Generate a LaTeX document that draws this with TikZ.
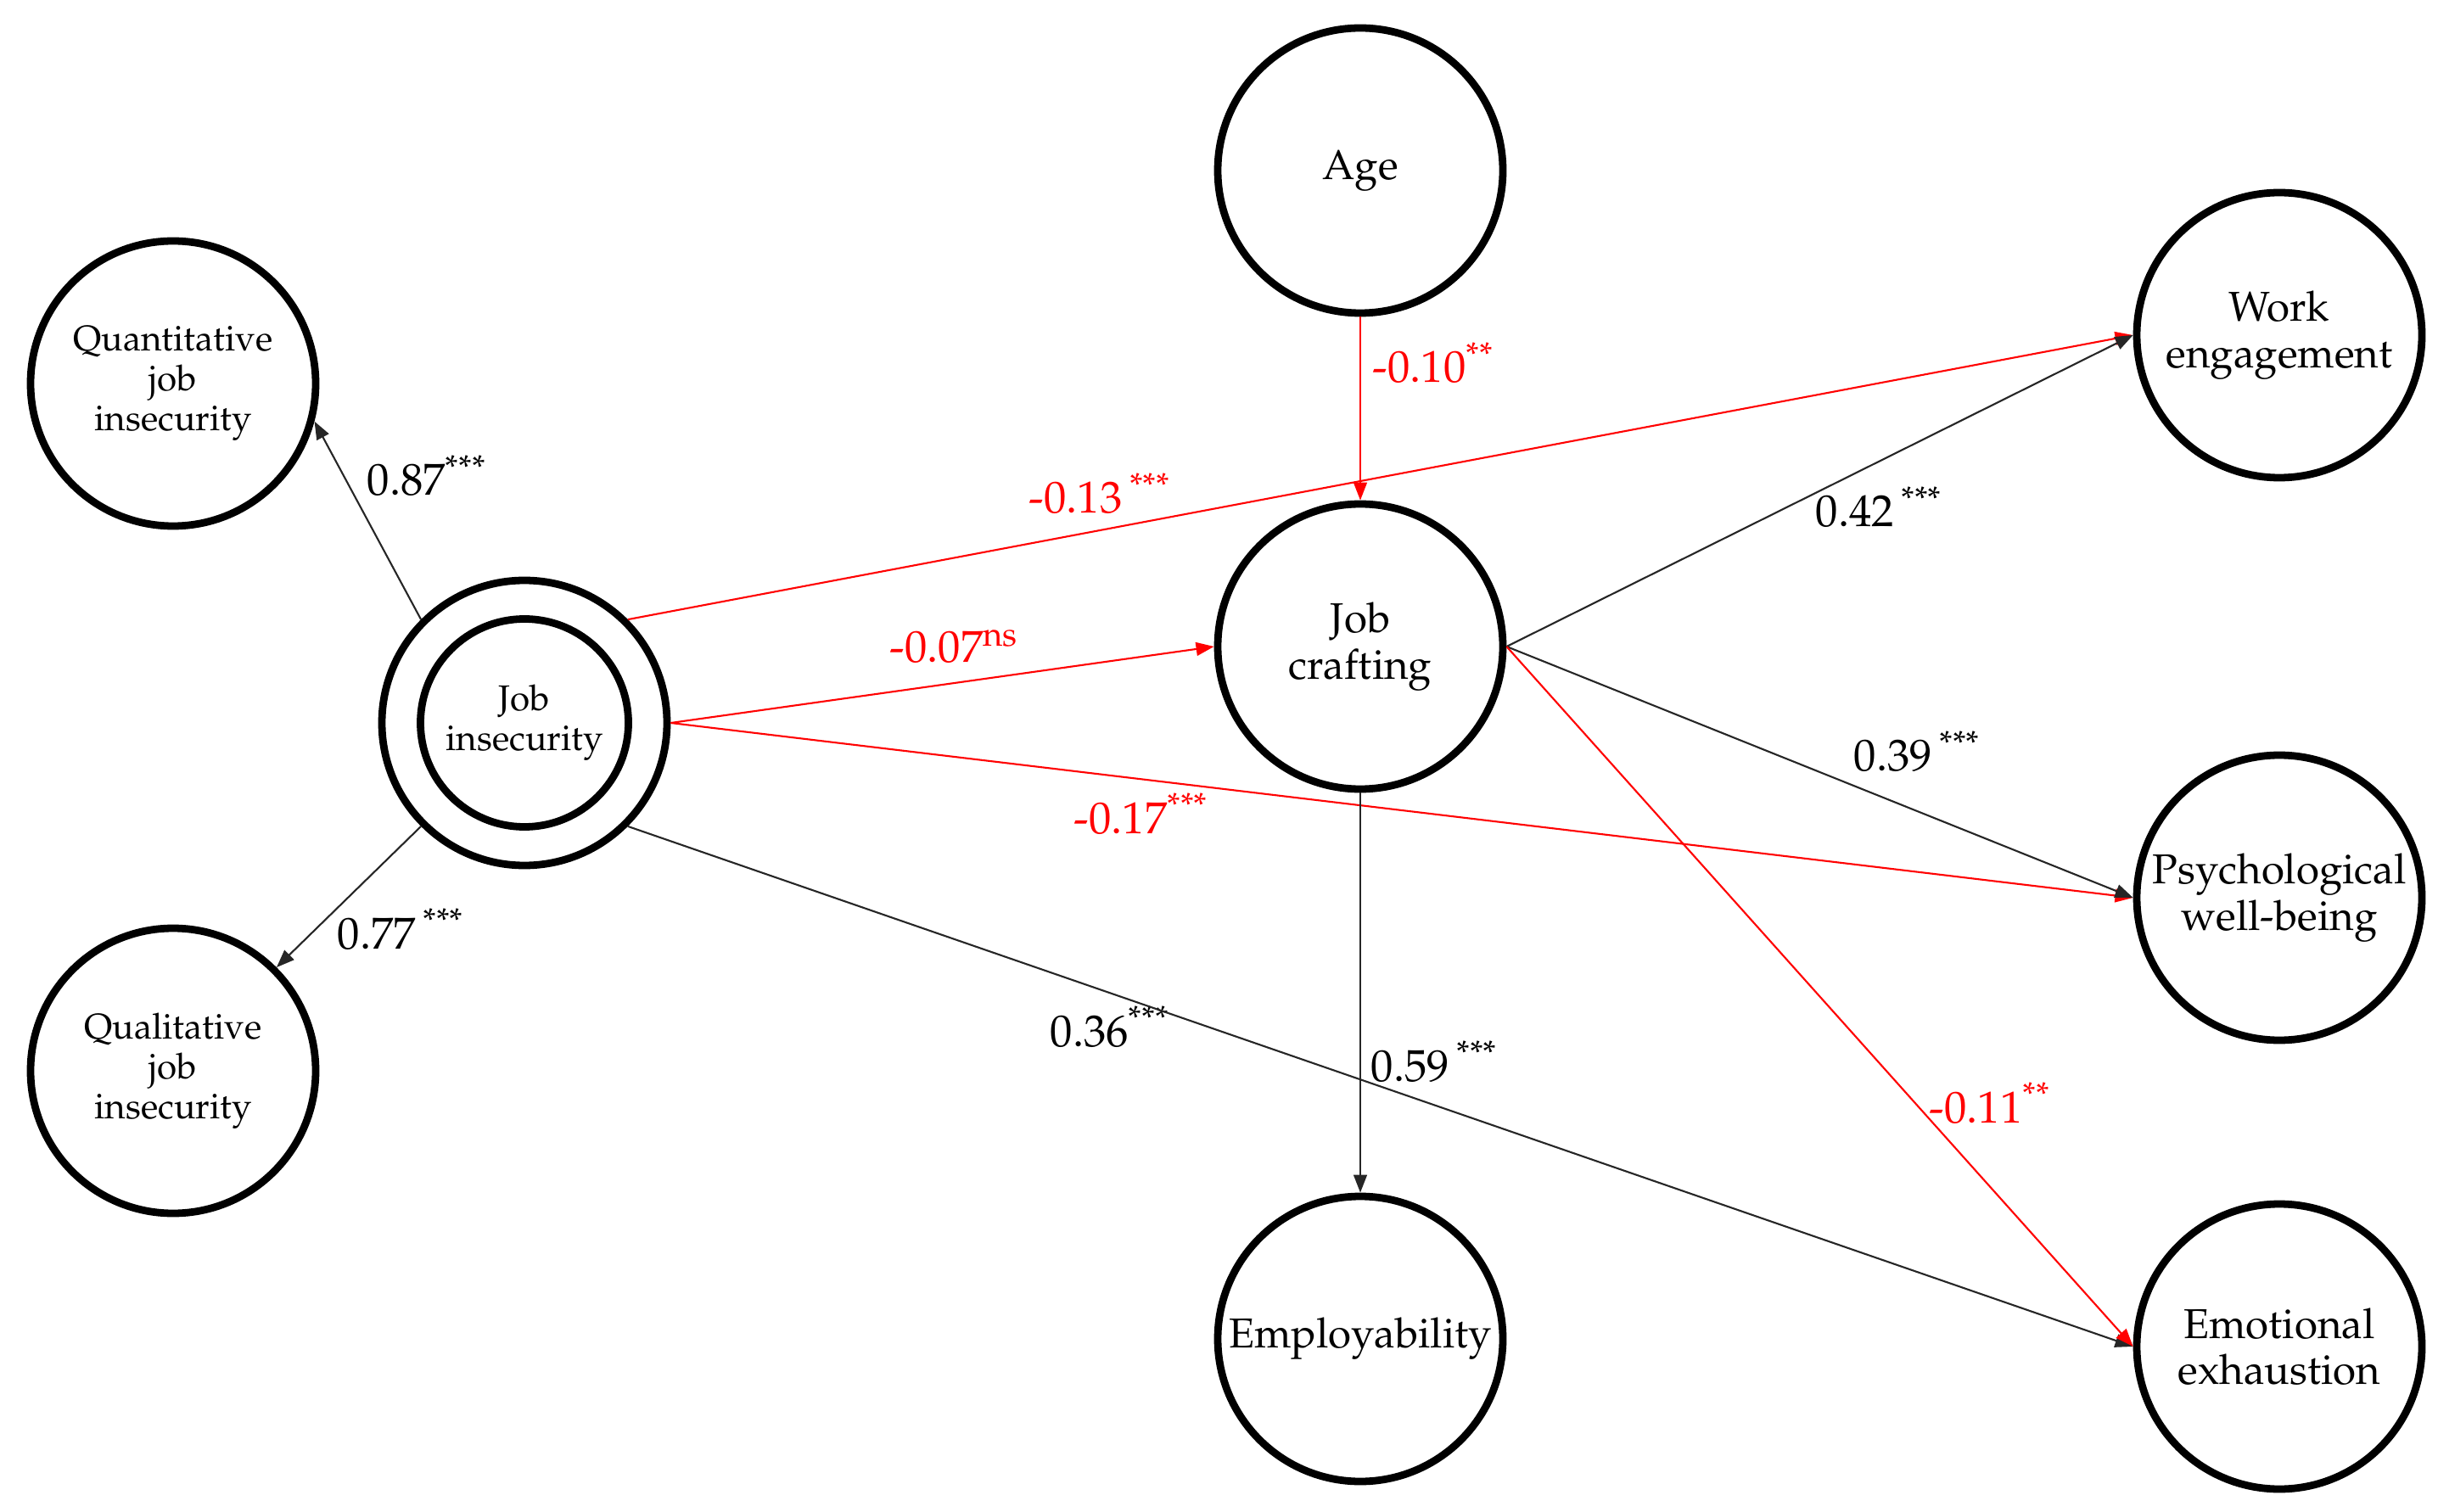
\documentclass[tikz,border=0pt]{standalone}
\usepackage[T1]{fontenc}
\usepackage{mathpazo}
\usepackage{tikz}
\usetikzlibrary{bayesnet,positioning,arrows.meta}

\begin{document}
\begin{tikzpicture}
  \tikzstyle{construct} = [circle, draw, line width=2.5pt, minimum size=3.36cm, inner sep=0pt, align=center, font=\fontsize{14}{15.5}\selectfont]
  \tikzstyle{facet} = [construct, font=\fontsize{12}{13.3}\selectfont]
  \tikzstyle{coef} = [inner sep=0pt, anchor=base west, font=\fontsize{15}{18}\selectfont]
  \tikzstyle{path} = [->, >={Triangle[length=6pt,width=4.5pt]}, line width=0.6pt, black!85]
  \tikzstyle{negpath} = [path, red]
  \useasboundingbox (0,0) rectangle (28.73,-17.82);

  % Define nodes
  \node[construct] (age) at (16.03,-2.01) {Age};
  \node[construct, on grid, below=5.61cm of age] (jc) {Job\\crafting};
  \node[construct, on grid, below=8.16cm of jc] (emp) {Employability};
  \node[construct] (we) at (26.86,-3.95) {Work\\engagement};
  \node[construct, on grid, below=6.63cm of we] (pw) {Psychological\\well-being};
  \node[construct, on grid, below=5.29cm of pw] (ee) {Emotional\\exhaustion};
  \node[construct] (ji) at (6.18,-8.52) {};
  \node[facet, minimum size=2.45cm] (ji-in) at (ji) {Job\\insecurity};
  \node[facet] (qn) at (2.04,-4.52) {Quantitative\\job\\insecurity};
  \node[facet, on grid, below=8.10cm of qn] (ql) {Qualitative\\job\\insecurity};

  % Coefficients
  \node[coef] (c-qn) at (4.32,-5.84) {0.87\textsuperscript{***}};
  \node[coef] (c-ql) at (3.97,-11.18) {0.77\,\textsuperscript{***}};
  \node[coef, red] (c-we) at (12.12,-6.05) {-0.13\,\textsuperscript{***}};
  \node[coef, red] (c-jc) at (10.48,-7.81) {-0.07\textsuperscript{ns}};
  \node[coef, red] (c-pw) at (12.65,-9.82) {-0.17\textsuperscript{***}};
  \node[coef] (c-ee) at (12.37,-12.33) {0.36\textsuperscript{***}};
  \node[coef, red] (c-age) at (16.17,-4.51) {-0.10\textsuperscript{**}};
  \node[coef] (c-emp) at (16.15,-12.74) {0.59\,\textsuperscript{***}};
  \node[coef] (c-jcwe) at (21.39,-6.21) {0.42\,\textsuperscript{***}};
  \node[coef] (c-jcpw) at (21.84,-9.09) {0.39\,\textsuperscript{***}};
  \node[coef, red] (c-jcee) at (22.73,-13.23) {-0.11\textsuperscript{**}};

  \edge [path] {ji.135}{qn.-15};
  \edge [path] {ji.-135}{ql.45};
  \edge [negpath] {ji.45}{we.west};
  \edge [negpath] {ji.east}{jc.west};
  \edge [negpath] {ji.east}{pw.west};
  \edge [path] {ji.-45}{ee.west};
  \edge [negpath] {age.south}{jc.north};
  \edge [path] {jc.east}{we.west};
  \edge [path] {jc.east}{pw.west};
  \edge [negpath] {jc.east}{ee.west};
  \edge [path] {jc.south}{emp.north}
\end{tikzpicture}
\end{document}
